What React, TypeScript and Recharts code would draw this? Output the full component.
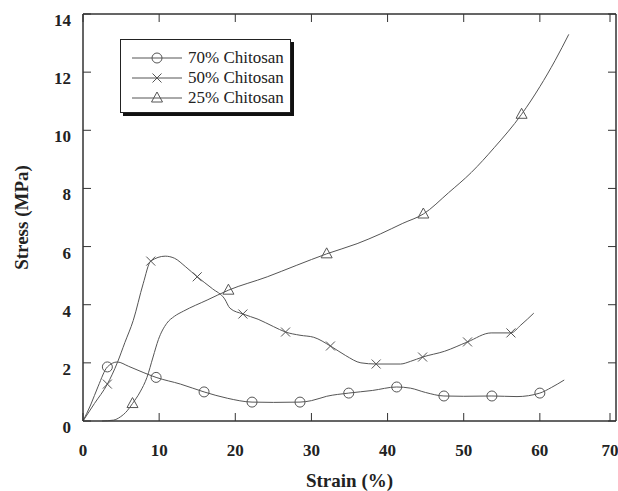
import React from "react";
import {
  ComposedChart,
  Line,
  XAxis,
  YAxis,
  Label,
  ReferenceArea,
} from "recharts";

// strain (%) / stress (MPa)
const c70 = [
  [0, 0], [1, 0.55], [2, 1.2], [3.2, 1.86], [4.5, 2.03], [6, 1.88], [8, 1.66],
  [9.6, 1.5], [12.8, 1.27], [15.9, 1.0], [19, 0.78], [22.2, 0.65], [25, 0.64],
  [28.5, 0.65], [30, 0.7], [32, 0.85], [34.9, 0.96], [38, 1.05], [41.2, 1.17],
  [43, 1.13], [45, 0.98], [47.4, 0.86], [50, 0.85], [53.7, 0.86], [57, 0.84],
  [60, 0.96], [61.5, 1.15], [63.2, 1.41],
];
const c50 = [
  [0, 0], [1.5, 0.6], [3.2, 1.27], [4.5, 2.0], [5.5, 2.7], [6.6, 3.46],
  [7.9, 4.72], [8.9, 5.5], [10.8, 5.67], [12, 5.6], [13.5, 5.3], [15, 4.96],
  [17, 4.55], [18.6, 4.2], [19.3, 3.88], [21, 3.68], [23, 3.5], [25, 3.25],
  [26.6, 3.06], [28.5, 2.95], [30.3, 2.88], [32.5, 2.58], [34.5, 2.25],
  [36.5, 2.0], [38.5, 1.96], [41.7, 1.96], [43, 2.05], [44.6, 2.2], [47.5, 2.4],
  [50.5, 2.72], [53.6, 3.03], [56.2, 3.03], [57.5, 3.3], [59.2, 3.71],
];
const c25 = [
  [2.5, 0], [4, 0.03], [4.9, 0.14], [5.8, 0.35], [6.5, 0.6], [7.5, 1.0],
  [8.4, 1.5], [9.2, 2.2], [9.9, 2.8], [11, 3.36], [12, 3.6], [13.2, 3.78],
  [16.3, 4.16], [19.1, 4.5], [24.2, 4.96], [28, 5.35], [32, 5.75], [36, 6.1],
  [39.1, 6.44], [42, 6.8], [44.7, 7.12], [48, 7.85], [51, 8.55], [54, 9.4],
  [57.6, 10.55], [60, 11.5], [62, 12.4], [63.8, 13.3],
];

// strains where the symbols sit
const c70Marks = [3.2, 9.6, 15.9, 22.2, 28.5, 34.9, 41.2, 47.4, 53.7, 60];
const c50Marks = [3.2, 8.9, 15, 21, 26.6, 32.5, 38.5, 44.6, 50.5, 56.2];
const c25Marks = [6.5, 19.1, 32, 44.7, 57.6];

const seriesNames = ["70% Chitosan", "50% Chitosan", "25% Chitosan"];
const xTicks = [0, 10, 20, 30, 40, 50, 60, 70];
const yTicks = [0, 2, 4, 6, 8, 10, 12, 14];

const FONT = '"Liberation Serif", "DejaVu Serif", serif';
const LINE = "#555";
const AXIS = "#333";

const toPoints = (arr: number[][]) => arr.map(([x, y]) => ({ x, y }));

function Marker({ kind, cx, cy }: { kind: string; cx: number; cy: number }) {
  if (kind === "circle")
    return <circle cx={cx} cy={cy} r={5} fill="none" stroke={LINE} />;
  if (kind === "x")
    return (
      <g stroke={LINE}>
        <line x1={cx - 4.5} y1={cy - 4.5} x2={cx + 4.5} y2={cy + 4.5} />
        <line x1={cx - 4.5} y1={cy + 4.5} x2={cx + 4.5} y2={cy - 4.5} />
      </g>
    );
  return (
    <polygon
      points={`${cx},${cy - 6} ${cx - 5.5},${cy + 4} ${cx + 5.5},${cy + 4}`}
      fill="none"
      stroke={LINE}
    />
  );
}

const makeDot = (marks: number[], kind: string) => (props: any) => {
  const { cx, cy, payload, index } = props;
  if (!marks.includes(payload.x)) return <g key={index} />;
  return (
    <g key={index}>
      <Marker kind={kind} cx={cx} cy={cy} />
    </g>
  );
};

const BottomTick = ({ x, y, payload }: any) => (
  <g>
    <line x1={x} y1={y} x2={x} y2={y - 8} stroke={AXIS} />
    <text
      x={x}
      y={y + 35}
      textAnchor="middle"
      fontFamily={FONT}
      fontWeight="bold"
      fontSize={17}
      fill="#222"
    >
      {payload.value}
    </text>
  </g>
);

const TopTick = ({ x, y }: any) => (
  <line x1={x} y1={y} x2={x} y2={y + 8} stroke={AXIS} />
);

const LeftTick = ({ x, y, payload }: any) => (
  <g>
    <line x1={x} y1={y} x2={x + 8} y2={y} stroke={AXIS} />
    <text
      x={x - 12}
      y={y + 12}
      textAnchor="end"
      fontFamily={FONT}
      fontWeight="bold"
      fontSize={17}
      fill="#222"
    >
      {payload.value}
    </text>
  </g>
);

const RightTick = ({ x, y }: any) => (
  <line x1={x} y1={y} x2={x - 8} y2={y} stroke={AXIS} />
);

const legendKinds = ["circle", "x", "triangle"];

function LegendBox() {
  return (
    <div
      style={{
        position: "absolute",
        left: 120,
        top: 39,
        width: 171,
        height: 74,
        border: "1px solid #222",
        boxShadow: "3px 3px 0 #111",
        background: "#fff",
        paddingTop: 8,
        boxSizing: "border-box",
        fontFamily: FONT,
        fontSize: 17,
        color: "#222",
      }}
    >
      {seriesNames.map((name, i) => (
        <div
          key={name}
          style={{ display: "flex", alignItems: "center", height: 20, lineHeight: "20px" }}
        >
          <svg width={62} height={20} style={{ marginLeft: 11 }}>
            <line x1={0} y1={10} x2={50} y2={10} stroke={LINE} />
            <Marker kind={legendKinds[i]} cx={25} cy={10} />
          </svg>
          <span style={{ marginLeft: -6 }}>{name}</span>
        </div>
      ))}
    </div>
  );
}

export default function App() {
  return (
    <div
      style={{
        position: "absolute",
        left: 0,
        top: 0,
        width: 618,
        height: 491,
        overflow: "hidden",
        background: "#fff",
      }}
    >
      <ComposedChart
        width={618}
        height={491}
        margin={{ top: 13, right: 1, left: 0, bottom: 0 }}
        style={{ overflow: "hidden" }}
      >
        <XAxis
          dataKey="x"
          type="number"
          domain={[0, 70]}
          ticks={xTicks}
          height={70}
          tickSize={0}
          tickMargin={0}
          tickLine={false}
          tick={BottomTick}
          axisLine={{ stroke: AXIS }}
        >
          <Label
            value="Strain (%)"
            position="insideBottom"
            offset={4}
            style={{ fontFamily: FONT, fontWeight: "bold", fontSize: 19, fill: "#222" }}
          />
        </XAxis>
        <XAxis
          xAxisId="top"
          dataKey="x"
          orientation="top"
          type="number"
          domain={[0, 70]}
          ticks={xTicks}
          height={1}
          tickSize={0}
          tickMargin={0}
          tickLine={false}
          tick={TopTick}
          axisLine={{ stroke: AXIS }}
        />
        <YAxis
          type="number"
          domain={[0, 14]}
          ticks={yTicks}
          width={83}
          tickSize={0}
          tickMargin={0}
          tickLine={false}
          tick={LeftTick}
          axisLine={{ stroke: AXIS }}
        >
          <Label
            content={({ viewBox }: any) => (
              <text
                x={24}
                y={viewBox.y + viewBox.height / 2}
                transform={`rotate(-90 24 ${viewBox.y + viewBox.height / 2})`}
                textAnchor="middle"
                dominantBaseline="middle"
                fontFamily={FONT}
                fontWeight="bold"
                fontSize={19}
                fill="#222"
              >
                Stress (MPa)
              </text>
            )}
          />
        </YAxis>
        <YAxis
          yAxisId="right"
          orientation="right"
          type="number"
          domain={[0, 14]}
          ticks={yTicks}
          width={1}
          tickSize={0}
          tickMargin={0}
          tickLine={false}
          tick={RightTick}
          axisLine={{ stroke: AXIS }}
        />
        <ReferenceArea
          xAxisId="top"
          yAxisId="right"
          x1={0}
          x2={70}
          y1={0}
          y2={14}
          fill="none"
          stroke={AXIS}
          strokeWidth={1}
          ifOverflow="visible"
        />
        <Line
          data={toPoints(c70)}
          dataKey="y"
          name={seriesNames[0]}
          type="monotone"
          stroke={LINE}
          strokeWidth={1}
          dot={makeDot(c70Marks, "circle")}
          isAnimationActive={false}
        />
        <Line
          data={toPoints(c50)}
          dataKey="y"
          name={seriesNames[1]}
          type="monotone"
          stroke={LINE}
          strokeWidth={1}
          dot={makeDot(c50Marks, "x")}
          isAnimationActive={false}
        />
        <Line
          data={toPoints(c25)}
          xAxisId="top"
          yAxisId="right"
          dataKey="y"
          name={seriesNames[2]}
          type="monotone"
          stroke={LINE}
          strokeWidth={1}
          dot={makeDot(c25Marks, "triangle")}
          isAnimationActive={false}
        />
      </ComposedChart>
      <LegendBox />
    </div>
  );
}
